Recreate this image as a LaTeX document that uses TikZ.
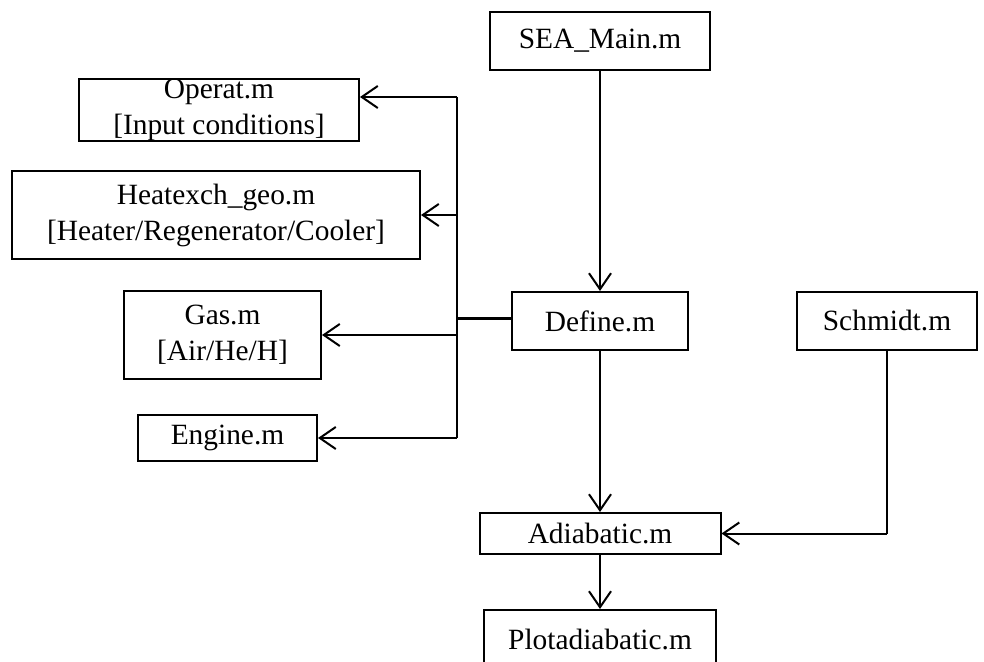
\documentclass[tikz,border=0pt]{standalone}
\usepackage{fontspec}
\setmainfont{Liberation Serif}
\usetikzlibrary{arrows.meta,calc}
\tikzset{
	file/.style={
			draw, line width=1pt, align=center, inner sep=0pt,
			font=\fontsize{14.7}{18}\selectfont
		},
	link/.style={line width=1pt, -{Straight Barb[length=8pt,width=11pt,line width=1pt]}}
}

\begin{document}
\begin{tikzpicture}[x=0.5pt, y=-0.5pt]
		\useasboundingbox (0, 0) rectangle (984, 662);

		\node[file, minimum width=110pt, minimum height=29pt]	(main) at (600, 41) {SEA\_Main.m};
		\node[file, minimum width=140pt, minimum height=30pt]	(operat) at (219, 110) {Operat.m\\{[}Input conditions{]}};
		\node[file, minimum width=204pt, minimum height=44pt]	(heat) at (216, 215) {Heatexch\_geo.m\\{[}Heater/Regenerator/Cooler{]}};
		\node[file, minimum width=98.5pt, minimum height=44pt]	(gas) at (222.5, 335) {Gas.m\\{[}Air/He/H{]}};
		\node[file, minimum width=89.5pt, minimum height=23pt]	(engine) at (227.5, 438) {Engine.m};
		\node[file, minimum width=88pt, minimum height=29pt]	(define) at (600, 321) {Define.m};
		\node[file, minimum width=90pt, minimum height=29pt]	(schmidt) at (887, 321) {Schmidt.m};
		\node[file, minimum width=120.5pt, minimum height=20.5pt]	(adiab) at (600, 533.5) {Adiabatic.m};
		\node[file, minimum width=116pt, minimum height=30pt]	(plot) at (600, 640) {Plotadiabatic.m};

		\coordinate (jn) at (457, 319);
		\coordinate (bustop) at (457, 97);
		\coordinate (bend) at (schmidt.south |- adiab.east);

		\draw[link]	(main.south) to (define.north);
		\draw[link]	(define.south) to (adiab.north);
		\draw[link]	(adiab.south) to (plot.north);

		\draw[line width=1.5pt]	(define.west |- jn) to (jn);
		\draw[line width=1pt]	(bustop) to (jn |- engine.east);
		\draw[link]	(bustop) to (operat.east |- bustop);
		\draw[link]	(jn |- heat.east) to (heat.east);
		\draw[link]	(jn |- gas.east) to (gas.east);
		\draw[link]	(jn |- engine.east) to (engine.east);

		\draw[line width=1pt]	(schmidt.south) to (bend);
		\draw[link]	(bend) to (adiab.east);
	\end{tikzpicture}
\end{document}
